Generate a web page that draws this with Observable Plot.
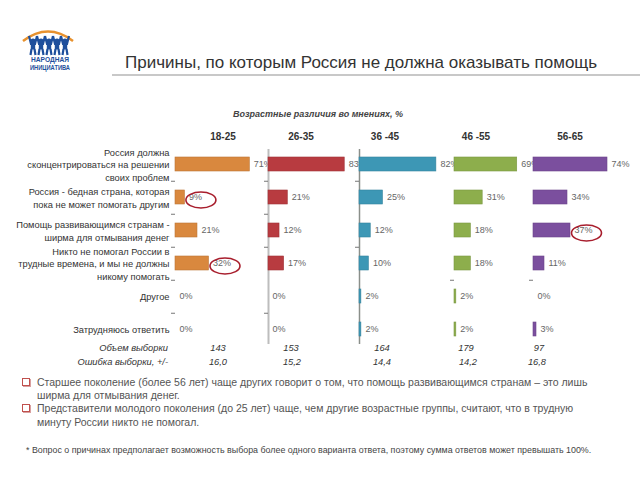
<!DOCTYPE html>
<html><head><meta charset="utf-8">
<script src="https://cdn.jsdelivr.net/npm/d3@7"></script>
<script src="https://cdn.jsdelivr.net/npm/@observablehq/plot@0.6"></script>
<style>
body{margin:0;background:#fff;font-family:"Liberation Sans",Arial,sans-serif}
#root{position:relative;width:640px;height:480px;overflow:hidden;background:#fff}
.abs{position:absolute;white-space:nowrap;line-height:1}
.panel{position:absolute;top:149px}
.panel svg{overflow:visible;background:transparent}
</style></head><body><div id="root"></div>
<script>
// ---- data ----
const categories = [
  "Россия должна\nсконцентрироваться на решении\nсвоих проблем",
  "Россия - бедная страна, которая\nпока не может помогать другим",
  "Помощь развивающимся странам -\nширма для отмывания денег",
  "Никто не помогал России в\nтрудные времена, и мы не должны\nникому помогать",
  "Другое",
  "Затрудняюсь ответить"
];
const groups = ["18-25", "26-35", "36 -45", "46 -55", "56-65"];
const values1825 = [71, 9, 21, 32, 0, 0];
const values2635 = [83, 21, 12, 17, 0, 0];
const values3645 = [82, 25, 12, 10, 2, 2];
const values4655 = [69, 31, 18, 18, 2, 2];
const values5665 = [74, 34, 37, 11, 0, 3];
const sampleSizes = [143, 153, 164, 179, 97];
const sampleErrors = ["16,0", "15,2", "14,4", "14,2", "16,8"];
const axisMax = [86, 98, 96, 99, 90];           // per-panel value-axis maximum (%)
const highlights = [[1, 3], [], [], [], [2]];    // circled answers per group (row index)
const axisTickAfter = [[0,1,2,3,4],[0,1,2,4],[0,2],[3],[3]];
const colors = ["#D9883E", "#B83B40", "#3D97B5", "#8DAE4C", "#7B4F9E"];
const allValues = [values1825, values2635, values3645, values4655, values5665];

// ---- layout ----
const root = document.getElementById("root");
function addText(txt, x, y, style, anchor) {
  const d = document.createElement("div");
  d.className = "abs";
  d.textContent = txt;
  d.style.cssText += style || "";
  d.style.left = x + "px"; d.style.top = y + "px";
  const tx = anchor === "middle" ? "-50%" : anchor === "end" ? "-100%" : "0";
  d.style.transform = `translate(${tx},-50%)`;
  root.appendChild(d);
  return d;
}

// logo
root.insertAdjacentHTML("beforeend", `
<svg class="abs" style="left:0;top:0" width="100" height="80">
  <path d="M23,41 Q48,22 73,41" fill="none" stroke="#E8922E" stroke-width="2.5"/>
  ${[31,39,47,55,63].map(cx => `
    <circle cx="${cx+2}" cy="41" r="2.6" fill="#1E4F9C"/>
    <path d="M${cx-2},36 L${cx},44 L${cx+4},44 L${cx+6},36" fill="none" stroke="#1E4F9C" stroke-width="2.2"/>
    <rect x="${cx-0.2}" y="43.5" width="4.4" height="6" fill="#1E4F9C"/>
    <path d="M${cx+0.5},49 L${cx-0.5},55 M${cx+3.5},49 L${cx+4.5},55" stroke="#1E4F9C" stroke-width="2.2"/>`).join("")}
  <text x="50" y="62" text-anchor="middle" font-family="Liberation Sans" font-weight="bold" font-size="6.8" fill="#1E4F9C" textLength="38" lengthAdjust="spacingAndGlyphs">НАРОДНАЯ</text>
  <text x="50" y="70" text-anchor="middle" font-family="Liberation Sans" font-weight="bold" font-size="6.8" fill="#1E4F9C" textLength="40" lengthAdjust="spacingAndGlyphs">ИНИЦИАТИВА</text>
</svg>`);

// title + rule
addText("Причины, по которым Россия не должна оказывать помощь", 125, 62, "font-size:17px;color:#333;");
root.insertAdjacentHTML("beforeend", `<div class="abs" style="left:112px;top:74px;width:528px;height:2px;background:#c8c8c8"></div>`);

// subtitle
addText("Возрастные различия во мнениях, %", 318, 114, "font-size:9px;font-weight:bold;font-style:italic;color:#444;", "middle");

// headers
const headerX = [223, 301, 385, 476, 570];
groups.forEach((g, i) => addText(g, headerX[i], 137, "font-size:10px;font-weight:bold;color:#333;", "middle"));

// ellipse symbol
const ellipse = {draw(ctx) {
  const rx = 15, ry = 8, k = 0.5523;
  ctx.moveTo(rx, 0);
  ctx.bezierCurveTo(rx, ry*k, rx*k, ry, 0, ry);
  ctx.bezierCurveTo(-rx*k, ry, -rx, ry*k, -rx, 0);
  ctx.bezierCurveTo(-rx, -ry*k, -rx*k, -ry, 0, -ry);
  ctx.bezierCurveTo(rx*k, -ry, rx, -ry*k, rx, 0);
  ctx.closePath();
}};

const panelLeft = [175, 268, 359, 454, 533];
const H = 195;
groups.forEach((g, i) => {
  const data = categories.map((c, j) => ({cat: c, value: allValues[i][j], row: j}));
  const ml = i === 0 ? 175 : 0;
  const marks = [];
  if (i === 1) marks.push(Plot.ruleX([0], {stroke: "#bdbdbd", strokeWidth: 2}));
  if (i === 2) marks.push(Plot.ruleX([0], {stroke: "#8a8f8a", strokeWidth: 1.5}));
  marks.push(Plot.ruleY(axisTickAfter[i], {y: j => categories[j], x1: 0, x2: 0, insetLeft: -4, dy: 16.75, stroke: "#777", strokeWidth: 1}));
  marks.push(Plot.barX(data, {y: "cat", x: "value", fill: colors[i], stroke: d3.color(colors[i]).darker(0.4).formatHex(), strokeWidth: 0.6}));
  marks.push(Plot.text(data, {y: "cat", x: "value", text: d => d.value + "%", dx: 4, textAnchor: "start", fill: "#666", fontSize: 9}));
  marks.push(Plot.dot(data.filter(d => highlights[i].includes(d.row)), {y: "cat", x: "value", symbol: ellipse, stroke: "#A81E2D", strokeWidth: 1.6, fill: "none", dx: 16, dy: 2.5}));
  if (i === 0) marks.push(Plot.text(data, {y: "cat", x: 0, text: "cat", dx: -6, textAnchor: "end", fill: "#333", fontSize: 9.3, lineHeight: 1.32}));
  const chart = Plot.plot({
    width: ml + 100, height: H,
    marginLeft: ml, marginRight: 10, marginTop: 0, marginBottom: 0,
    style: {fontFamily: "Liberation Sans, Arial, sans-serif", background: "transparent", overflow: "visible"},
    x: {domain: [0, axisMax[i]], range: [ml, ml + 90], axis: null},
    y: {domain: categories, range: [0, H], paddingInner: 0.58, paddingOuter: 0.2, axis: null},
    marks
  });
  const wrap = document.createElement("div");
  wrap.className = "panel";
  wrap.style.left = (panelLeft[i] - ml) + "px";
  wrap.appendChild(chart);
  root.appendChild(wrap);
});

// sample rows
const sItal = "font-size:9.3px;font-style:italic;color:#333;";
addText("Объем выборки", 168, 349, sItal, "end");
addText("Ошибка выборки, +/-", 168, 363, sItal, "end");
const sizeX = [218, 291, 382, 466, 539];
const errX = [218, 292, 382, 468, 537];
sampleSizes.forEach((v, i) => addText(String(v), sizeX[i], 349, sItal, "middle"));
sampleErrors.forEach((v, i) => addText(v, errX[i], 363, sItal, "middle"));

// bullets
const bStyle = "font-size:10.5px;color:#555;";
function bullet(y) {
  root.insertAdjacentHTML("beforeend", `<div class="abs" style="left:22px;top:${y-4}px;width:6px;height:6px;border:1px solid #C0504D;box-shadow:1px 1px 0 #d9a0a0"></div>`);
}
bullet(382); bullet(408);
addText("Старшее поколение (более 56 лет) чаще других говорит о том, что помощь развивающимся странам – это лишь", 37, 382, bStyle);
addText("ширма для отмывания денег.", 37, 395, bStyle);
addText("Представители молодого поколения (до 25 лет) чаще, чем другие возрастные группы, считают, что  в трудную", 37, 408, bStyle);
addText("минуту России никто не помогал.", 37, 422, bStyle);
addText("* Вопрос о причинах предполагает возможность выбора более одного варианта ответа, поэтому сумма ответов может превышать 100%.", 26, 450, "font-size:8.9px;color:#444;");
</script></body></html>
